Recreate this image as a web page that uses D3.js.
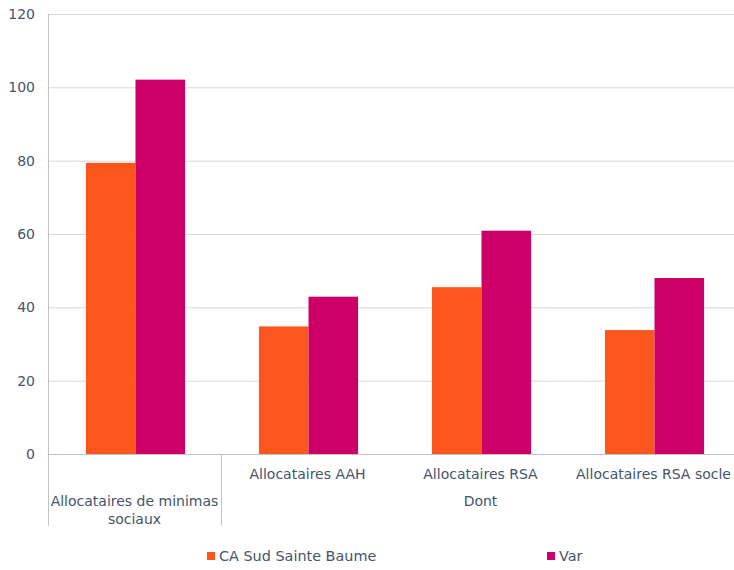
<!DOCTYPE html>
<html><head><meta charset="utf-8">
<script src="https://cdn.jsdelivr.net/npm/d3@7"></script>
<style>body{margin:0;background:#fff}svg{display:block}text{font-family:"DejaVu Sans",Verdana,sans-serif;fill:#44546A}</style>
</head><body><svg id="c" width="734" height="570"></svg>
<script>
const categories = ["Allocataires de minimas sociaux","Allocataires AAH","Allocataires RSA","Allocataires RSA socle"];
const groupLabels = ["", "Dont"];
const seriesNames = ["CA Sud Sainte Baume","Var"];
const caValues = [79.4, 34.8, 45.5, 33.8];
const varValues = [102.1, 42.9, 60.9, 48.0];
const yTicks = [0,20,40,60,80,100,120];
const colors = ["#FC561F","#CC0066"];

const svg = d3.select("#c");
const L = 48, R = 740, T = 14, B = 454;
const x = d3.scaleBand().domain(categories).range([L,R]).paddingInner(0).paddingOuter(0);
const xs = d3.scaleBand().domain(seriesNames).range([0,x.bandwidth()]).paddingInner(0).paddingOuter(0.745);
const y = d3.scaleLinear().domain([0,120]).range([B,T]);

// grid
svg.append("g").selectAll("line").data(yTicks.filter(d=>d>0)).join("line")
  .attr("x1",L).attr("x2",734).attr("y1",d=>y(d)+0.5).attr("y2",d=>y(d)+0.5)
  .attr("stroke","#D9D9D9").attr("stroke-width",1);

// y labels
const ya = d3.axisLeft(y).tickValues(yTicks).tickSize(0).tickPadding(13);
const yg = svg.append("g").attr("transform",`translate(${L},0)`).call(ya);
yg.select(".domain").remove();
yg.selectAll("text").attr("font-size",14).style("font-family","DejaVu Sans").attr("fill","#44546A");

// bars
const data = categories.map((c,i)=>({c, vals:[caValues[i], varValues[i]]}));
const g = svg.append("g");
data.forEach(d=>{
  d.vals.forEach((v,j)=>{
    g.append("rect").attr("x",x(d.c)+xs(seriesNames[j])+1).attr("width",xs.bandwidth())
      .attr("y",y(v)).attr("height",y(0)-y(v)).attr("fill",colors[j]);
  });
});

// axes lines
svg.append("line").attr("x1",L).attr("x2",734).attr("y1",B+0.5).attr("y2",B+0.5).attr("stroke","#BFC3CC");
svg.append("line").attr("x1",L+0.5).attr("x2",L+0.5).attr("y1",T).attr("y2",526).attr("stroke","#BFC3CC");
svg.append("line").attr("x1",x(categories[1])+0.5).attr("x2",x(categories[1])+0.5).attr("y1",B).attr("y2",526).attr("stroke","#BFC3CC");

// category labels
const fs = 14;
categories.slice(1).forEach(c=>{
  svg.append("text").attr("x",x(c)+x.bandwidth()/2).attr("y",479).attr("text-anchor","middle").attr("font-size",fs).text(c);
});
const c0 = x(categories[0])+x.bandwidth()/2;
svg.append("text").attr("x",c0).attr("y",506).attr("text-anchor","middle").attr("font-size",fs).text("Allocataires de minimas");
svg.append("text").attr("x",c0).attr("y",524).attr("text-anchor","middle").attr("font-size",fs).text("sociaux");
svg.append("text").attr("x",(x(categories[1])+R)/2).attr("y",506).attr("text-anchor","middle").attr("font-size",fs).text(groupLabels[1]);

// legend
const legX = [207, 547];
seriesNames.forEach((s,i)=>{
  svg.append("rect").attr("x",legX[i]).attr("y",552).attr("width",8).attr("height",8).attr("fill",colors[i]);
  svg.append("text").attr("x",legX[i]+12).attr("y",561).attr("font-size",14.4).text(s);
});
</script></body></html>
